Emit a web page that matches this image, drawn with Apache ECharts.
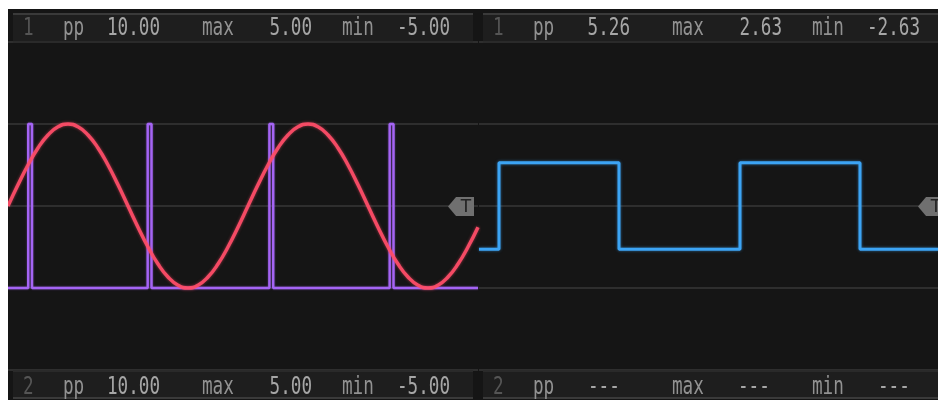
<!DOCTYPE html>
<html>
<head>
<meta charset="utf-8">
<script src="https://cdn.jsdelivr.net/npm/echarts@6/dist/echarts.min.js"></script>
<style>
  html, body { margin: 0; padding: 0; background: #ffffff; width: 938px; height: 400px; overflow: hidden; }
  #scope { position: absolute; left: 8px; top: 9px; width: 930px; height: 391px; background: #151515; }
</style>
</head>
<body>
<div id="scope"></div>
<script>
// ---- left view: channel 1 sine, sampled every 10 µs ----
const sineTimes = [0, 10, 20, 30, 40, 50, 60, 70, 80, 90, 100, 110, 120, 130, 140, 150,
  160, 170, 180, 190, 200, 210, 220, 230, 240, 250, 260, 270, 280, 290, 300, 310,
  320, 330, 340, 350, 360, 370, 380, 390, 400, 410, 420, 430, 440, 450, 460, 470];
const sineVolts = [0, 1.29, 2.50, 3.54, 4.33, 4.83, 5.00, 4.83, 4.33, 3.54, 2.50, 1.29,
  0, -1.29, -2.50, -3.54, -4.33, -4.83, -5.00, -4.83, -4.33, -3.54, -2.50, -1.29,
  0, 1.29, 2.50, 3.54, 4.33, 4.83, 5.00, 4.83, 4.33, 3.54, 2.50, 1.29,
  0, -1.29, -2.50, -3.54, -4.33, -4.83, -5.00, -4.83, -4.33, -3.54, -2.50, -1.29];

// ---- left view: channel 2 pulse train (rising, falling edge times) ----
const pulseEdges = [[20.2, 24.0], [139.7, 143.5], [261.4, 265.2], [381.7, 385.5]];
const pulseLow = -5.00;
const pulseHigh = 5.00;
const leftSpan = 470;

// ---- right view: channel 1 square wave (edge times) ----
const squareEdges = [20, 140, 261, 381];
const squareLow = -2.63;
const squareHigh = 2.63;
const rightSpan = 459;

// ---- measurement readouts ----
const readoutNames = ['pp', 'max', 'min'];
const leftTop = ['10.00', '5.00', '-5.00'];
const leftBottom = ['10.00', '5.00', '-5.00'];
const rightTop = ['5.26', '2.63', '-2.63'];
const rightBottom = ['---', '---', '---'];

// vertical scale shared by both views
const voltMin = -10, voltMax = 10, voltStep = 5;

// build the stepped traces from their edge lists
const sineData = sineTimes.map((t, i) => [t, sineVolts[i]]);

const pulseData = [[0, pulseLow]];
pulseEdges.forEach(([rise, fall]) => {
  pulseData.push([rise, pulseLow], [rise, pulseHigh], [fall, pulseHigh], [fall, pulseLow]);
});
pulseData.push([leftSpan, pulseLow]);

let level = squareLow;
const squareData = [[0, level]];
squareEdges.forEach(t => {
  squareData.push([t, level]);
  level = level === squareLow ? squareHigh : squareLow;
  squareData.push([t, level]);
});
squareData.push([rightSpan, level]);

// ---- readout bars and trigger markers ----
const FONT = '24px "DejaVu Sans Mono", monospace';
const SQUEEZE = 0.735;
const labelCol = '#929292';
const valueCol = '#a6a6a6';

function txt(x, y, text, color, align) {
  return {
    type: 'text', x: x, y: y, z: 20, scaleX: SQUEEZE, scaleY: 1,
    style: { text: text, font: FONT, fill: color, align: align || 'left', verticalAlign: 'middle' }
  };
}

function readoutBar(x0, barTop, textY, channel, values, topEdge) {
  const els = [];
  const w = 460, h = 29;
  els.push({ type: 'rect', z: 10, shape: { x: x0, y: barTop, width: w, height: h },
    style: { fill: '#1e1e1e' } });
  els.push({ type: 'rect', z: 11, shape: { x: x0, y: topEdge ? barTop : barTop + h - 2, width: w, height: 2 },
    style: { fill: '#3a3a3a' } });
  els.push({ type: 'rect', z: 11, shape: { x: x0, y: topEdge ? barTop + h - 1 : barTop, width: w, height: 2 },
    style: { fill: '#2a2a2a' } });
  els.push(txt(x0 + 10, textY, channel, '#555555'));
  els.push(txt(x0 + 50, textY, readoutNames[0], labelCol));
  els.push(txt(x0 + 189, textY, readoutNames[1], labelCol));
  els.push(txt(x0 + 329, textY, readoutNames[2], labelCol));
  if (values[0] === '---') {
    els.push(txt(x0 + 105, textY, values[0], valueCol));
    els.push(txt(x0 + 255, textY, values[1], valueCol));
    els.push(txt(x0 + 395, textY, values[2], valueCol));
  } else {
    els.push(txt(x0 + 147, textY, values[0], valueCol, 'right'));
    els.push(txt(x0 + 299, textY, values[1], valueCol, 'right'));
    els.push(txt(x0 + 437, textY, values[2], valueCol, 'right'));
  }
  return els;
}

function trigger(tipX, midY) {
  return [
    { type: 'polygon', z: 15,
      shape: { points: [[tipX, midY], [tipX + 8, midY - 9.5], [tipX + 26, midY - 9.5], [tipX + 26, midY + 9.5], [tipX + 8, midY + 9.5]] },
      style: { fill: '#707070' } },
    { type: 'text', z: 16, x: tipX + 18, y: midY + 1,
      style: { text: 'T', font: '17px "DejaVu Sans", sans-serif', fill: '#222222', align: 'center', verticalAlign: 'middle' } }
  ];
}

const graphics = []
  .concat(readoutBar(5, 4, 19.5, '1', leftTop, true))
  .concat(readoutBar(475, 4, 19.5, '1', rightTop, true))
  .concat(readoutBar(5, 361, 378.5, '2', leftBottom, false))
  .concat(readoutBar(475, 361, 378.5, '2', rightBottom, false))
  .concat(trigger(440, 197.5))
  .concat(trigger(910, 197.5));

const yAxisBase = {
  type: 'value', min: voltMin, max: voltMax, interval: voltStep,
  axisLine: { show: false }, axisTick: { show: false }, axisLabel: { show: false },
  splitLine: { show: true, lineStyle: { color: '#2e2e2e', width: 2 } }
};

const chart = echarts.init(document.getElementById('scope'), null, { renderer: 'canvas' });
chart.setOption({
  animation: false,
  backgroundColor: '#151515',
  grid: [
    { left: 0, top: 33, width: 470, height: 328 },
    { left: 471, top: 33, width: 459, height: 328 }
  ],
  xAxis: [
    { gridIndex: 0, type: 'value', min: 0, max: leftSpan, show: false },
    { gridIndex: 1, type: 'value', min: 0, max: rightSpan, show: false }
  ],
  yAxis: [
    Object.assign({ gridIndex: 0 }, yAxisBase),
    Object.assign({ gridIndex: 1 }, yAxisBase)
  ],
  series: [
    { name: 'CH2', type: 'line', xAxisIndex: 0, yAxisIndex: 0, data: pulseData,
      showSymbol: false, smooth: false,
      lineStyle: { color: '#a464f4', width: 2.4, shadowColor: 'rgba(164,100,244,0.6)', shadowBlur: 2 } },
    { name: 'CH1', type: 'line', xAxisIndex: 0, yAxisIndex: 0, data: sineData,
      showSymbol: false, smooth: true,
      lineStyle: { color: '#ff4d68', width: 3.5, opacity: 0.92, shadowColor: 'rgba(255,77,104,0.6)', shadowBlur: 3 } },
    { name: 'CH1 zoom', type: 'line', xAxisIndex: 1, yAxisIndex: 1, data: squareData,
      showSymbol: false, smooth: false,
      lineStyle: { color: '#3ca4f4', width: 3, shadowColor: 'rgba(60,164,244,0.6)', shadowBlur: 3 } }
  ],
  graphic: { elements: graphics }
});
</script>
</body>
</html>
